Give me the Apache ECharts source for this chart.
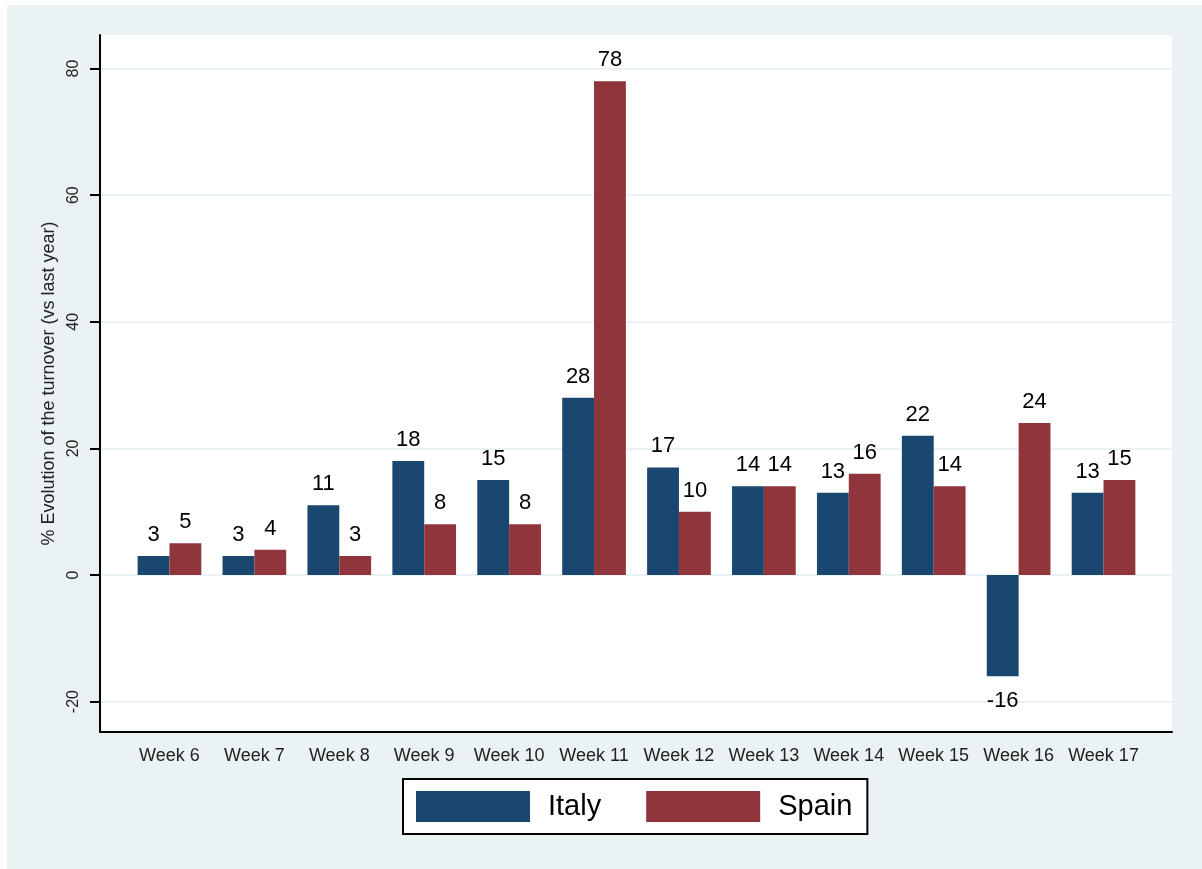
<!DOCTYPE html>
<html lang="en">
<head>
    <meta charset="UTF-8">
    <title>Evolution of the turnover: Italy vs Spain</title>
    <script src="https://cdn.jsdelivr.net/npm/echarts@6.0.0/dist/echarts.min.js"></script>
    <style>
        body {
            margin: 0;
            background: #ffffff;
        }

        #chart {
            position: absolute;
            left: 7px;
            top: 5px;
            width: 1195px;
            height: 864px;
            background: #eaf2f3;
        }
    </style>
</head>
<body>
    <div id="chart"></div>

    <script>
        // Data
        const weeks = ['Week 6', 'Week 7', 'Week 8', 'Week 9', 'Week 10', 'Week 11',
                       'Week 12', 'Week 13', 'Week 14', 'Week 15', 'Week 16', 'Week 17'];
        const italy = [3, 3, 11, 18, 15, 28, 17, 14, 13, 22, -16, 13];
        const spain = [5, 4, 3, 8, 8, 78, 10, 14, 16, 14, 24, 15];
        const yTicks = [-20, 0, 20, 40, 60, 80];

        const yMin = -24.8;
        const yMax = 85.3;

        // negative bars get their label underneath
        function withLabels(values) {
            return values.map(function (v) {
                return v < 0 ? { value: v, label: { position: 'bottom', distance: 14 } } : v;
            });
        }

        const chart = echarts.init(document.getElementById('chart'));

        const barLabel = {
            show: true,
            position: 'top',
            distance: 10,
            fontSize: 22,
            color: '#000',
            fontFamily: 'Liberation Sans, Arial, sans-serif'
        };

        chart.setOption({
            backgroundColor: 'transparent',
            textStyle: {
                fontFamily: 'Liberation Sans, Arial, sans-serif'
            },
            // grid 0: white plot region with axes and gridlines
            // grid 1: inset region where the bars sit
            grid: [
                { left: 93, right: 30, top: 30, bottom: 137, show: true, backgroundColor: '#fff', borderWidth: 0 },
                { left: 120, right: 56, top: 30, bottom: 137 }
            ],
            legend: {
                data: ['Italy', 'Spain'],
                left: 396,
                bottom: 35,
                orient: 'horizontal',
                icon: 'rect',
                itemWidth: 114,
                itemHeight: 31,
                itemGap: 45,
                padding: [12, 15, 12, 13],
                backgroundColor: '#fff',
                borderColor: '#000',
                borderWidth: 2,
                borderRadius: 0,
                textStyle: {
                    fontSize: 29,
                    color: '#000',
                    lineHeight: 31,
                    padding: [0, 0, 0, 13]
                }
            },
            xAxis: [
                {
                    gridIndex: 0,
                    type: 'value',
                    min: 0,
                    max: 1,
                    axisLine: { show: true, onZero: false, lineStyle: { color: '#000', width: 2 } },
                    axisTick: { show: false },
                    axisLabel: { show: false },
                    splitLine: { show: false }
                },
                {
                    gridIndex: 1,
                    type: 'category',
                    data: weeks,
                    axisLine: { show: false, onZero: false },
                    axisTick: { show: false },
                    axisLabel: { interval: 0, fontSize: 18, color: '#222', margin: 15 }
                }
            ],
            yAxis: [
                {
                    gridIndex: 0,
                    type: 'value',
                    min: yMin,
                    max: yMax,
                    name: '% Evolution of the turnover (vs last year)',
                    nameLocation: 'middle',
                    nameGap: 37,
                    nameTextStyle: { fontSize: 18, color: '#222' },
                    axisLine: { show: true, onZero: false, lineStyle: { color: '#000', width: 2 } },
                    axisTick: {
                        show: true,
                        length: 10,
                        lineStyle: { color: '#000', width: 2 },
                        customValues: yTicks
                    },
                    axisLabel: {
                        rotate: 90,
                        fontSize: 16,
                        color: '#222',
                        margin: 18,
                        customValues: yTicks
                    },
                    splitLine: { show: true, lineStyle: { color: '#eaf2f3', width: 2 } }
                },
                {
                    gridIndex: 1,
                    type: 'value',
                    min: yMin,
                    max: yMax,
                    show: false,
                    splitLine: { show: false }
                }
            ],
            series: [
                {
                    name: 'Italy',
                    type: 'bar',
                    xAxisIndex: 1,
                    yAxisIndex: 1,
                    data: withLabels(italy),
                    barGap: '0%',
                    barCategoryGap: '25%',
                    itemStyle: { color: '#1a476f' },
                    label: barLabel
                },
                {
                    name: 'Spain',
                    type: 'bar',
                    xAxisIndex: 1,
                    yAxisIndex: 1,
                    data: withLabels(spain),
                    barGap: '0%',
                    barCategoryGap: '25%',
                    itemStyle: { color: '#90353b' },
                    label: barLabel
                }
            ]
        });

        window.addEventListener('resize', function () {
            chart.resize();
        });
    </script>
</body>
</html>
